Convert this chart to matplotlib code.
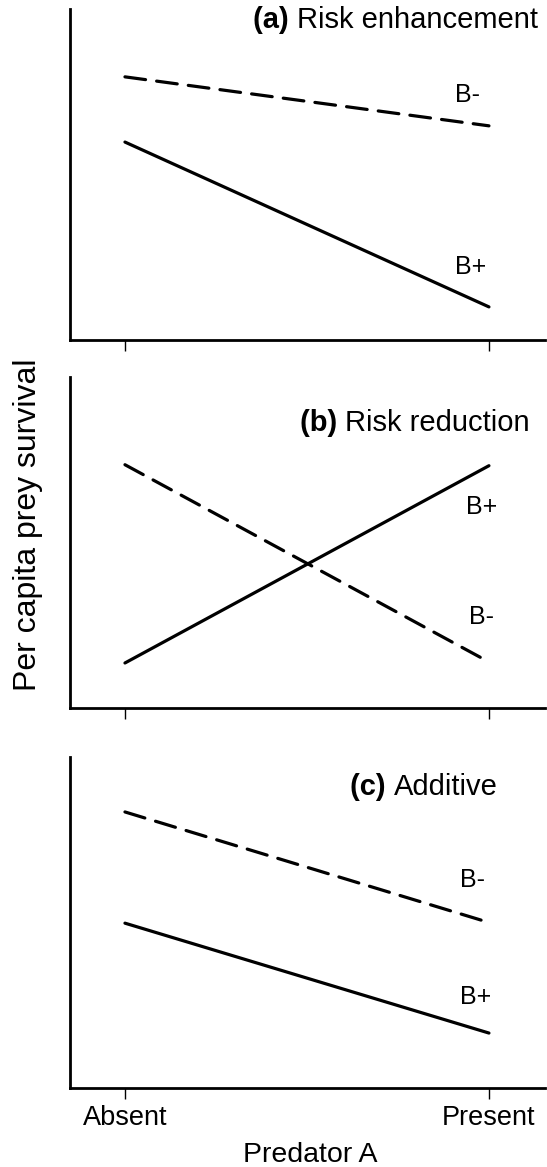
import matplotlib.pyplot as plt

plt.rcParams['font.family'] = ['Liberation Sans', 'DejaVu Sans']

# ── Data ─────────────────────────────────────────────────────
x_levels = [0, 1]
x_labels = ['Absent', 'Present']

panel_ids    = ['(a)', '(b)', '(c)']
panel_names  = ['Risk enhancement', 'Risk reduction', 'Additive']
b_minus = [[0.795, 0.647], [0.735, 0.139], [0.834, 0.500]]   # dashed
b_plus  = [[0.598, 0.100], [0.136, 0.732], [0.498, 0.166]]   # solid

# label placement (data coords) / title placement
bm_lab = [(0.906, 0.740), (0.945, 0.274), (0.920, 0.628)]
bp_lab = [(0.906, 0.221), (0.937, 0.608), (0.920, 0.275)]
title_xy = [(1.135, 0.967), (1.113, 0.861), (1.025, 0.909)]

# ── Plot ──────────────────────────────────────────────────────
fig = plt.figure(figsize=(5.47, 11.67), dpi=100)
W, H = 547, 1167
tops = [9, 377, 757]
ph = 331
left, right = 70, 545

for i in range(3):
    ax = fig.add_axes([left / W, (H - tops[i] - ph) / H, (right - left) / W, ph / H])
    ax.plot(x_levels, b_minus[i], color='black', lw=2.3, dashes=(6.5, 3.5),
            solid_capstyle='round', dash_capstyle='round')
    ax.plot(x_levels, b_plus[i], color='black', lw=2.3, solid_capstyle='round')
    ax.set_xlim(-0.151, 1.154)
    ax.set_ylim(0, 1)
    for s in ['top', 'right']:
        ax.spines[s].set_visible(False)
    for s in ['left', 'bottom']:
        ax.spines[s].set_linewidth(2.0)
    ax.set_yticks([])
    ax.set_xticks(x_levels)
    ax.tick_params(axis='x', direction='out', length=8, width=1.0, pad=4)
    if i == 2:
        ax.set_xticklabels(x_labels, fontsize=19.5)
    else:
        ax.set_xticklabels([])
    ax.text(*bm_lab[i], 'B-', fontsize=18, va='center', ha='left')
    ax.text(*bp_lab[i], 'B+', fontsize=18, va='center', ha='left')
    tx, ty = title_xy[i]
    t = ax.text(tx, ty, panel_names[i], fontsize=21, va='center', ha='right',
                transform=ax.get_xaxis_transform())
    ax.annotate(panel_ids[i] + ' ', xy=(0, 0.5), xycoords=t, fontsize=21,
                fontweight='bold', va='center', ha='right')

fig.text(28 / W, (H - 525) / H, 'Per capita prey survival', rotation=90,
         fontsize=23, va='center', ha='center')
fig.text(310 / W, (H - 1162) / H, 'Predator A', fontsize=20.5,
         va='baseline', ha='center')

plt.savefig('out.png', dpi=100)
plt.close()
